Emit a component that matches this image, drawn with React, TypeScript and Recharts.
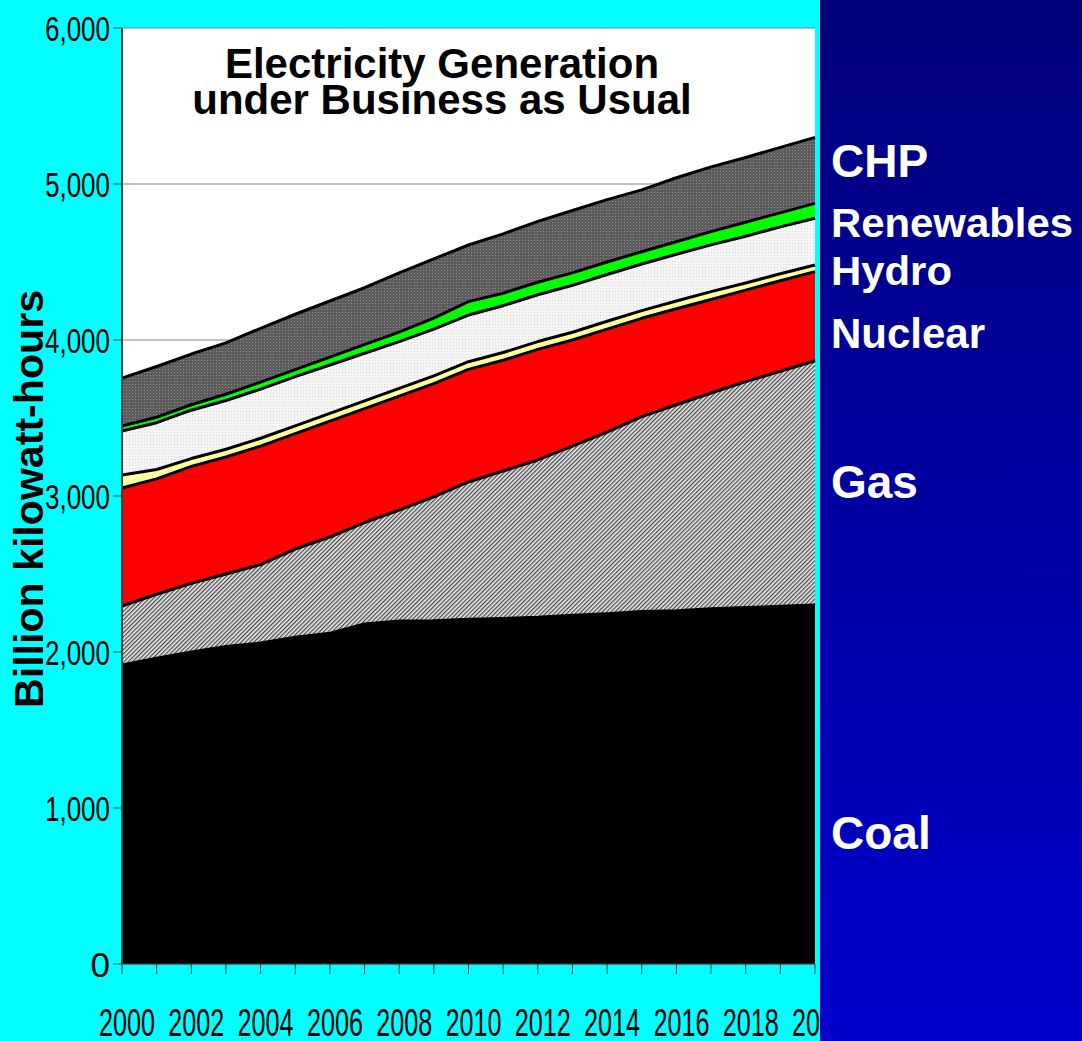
import { ComposedChart, Area, Line, XAxis, YAxis, CartesianGrid } from 'recharts'

const years = [2000, 2001, 2002, 2003, 2004, 2005, 2006, 2007, 2008, 2009, 2010, 2011, 2012, 2013, 2014, 2015, 2016, 2017, 2018, 2019, 2020]
const coal = [1917, 1960, 2000, 2035, 2058, 2095, 2120, 2180, 2199, 2200, 2210, 2215, 2222, 2235, 2245, 2259, 2265, 2278, 2285, 2293, 2301]
const gas = [378, 410, 440, 465, 502, 565, 617, 650, 711, 794, 880, 945, 1009, 1085, 1165, 1250, 1320, 1382, 1448, 1507, 1566]
const nuclear = [756, 740, 750, 750, 760, 740, 743, 730, 730, 726, 722, 710, 709, 680, 660, 630, 615, 600, 587, 580, 571]
const oil = [84, 60, 50, 50, 50, 50, 50, 50, 50, 50, 49, 50, 50, 50, 50, 49, 50, 50, 45, 45, 43]
const hydro = [282, 300, 310, 312, 315, 315, 310, 305, 300, 300, 299, 300, 300, 300, 300, 299, 300, 300, 300, 300, 299]
const renewables = [32, 35, 35, 40, 45, 45, 50, 55, 60, 70, 86, 80, 80, 80, 80, 79, 80, 85, 90, 90, 96]
const chp = [307, 325, 325, 330, 345, 355, 360, 365, 380, 380, 363, 380, 390, 400, 400, 396, 410, 415, 415, 420, 423]

const yTicks = [0, 1000, 2000, 3000, 4000, 5000, 6000]
const sideLabels = [
  { text: 'CHP', y: 177, size: 46 },
  { text: 'Renewables', y: 237, size: 41, len: 242 },
  { text: 'Hydro', y: 285, size: 41, len: 121 },
  { text: 'Nuclear', y: 348, size: 42 },
  { text: 'Gas', y: 498, size: 46 },
  { text: 'Coal', y: 849, size: 46 },
]

const data = years.map((year, i) => ({
  year,
  coal: coal[i],
  gas: gas[i],
  nuclear: nuclear[i],
  oil: oil[i],
  hydro: hydro[i],
  renewables: renewables[i],
  chp: chp[i],
}))

const order = ['coal', 'gas', 'nuclear', 'oil', 'hydro', 'renewables', 'chp']
const cumulative = (n: number) => (d: any) =>
  order.slice(0, n + 1).reduce((s, k) => s + d[k], 0)

const font = '"Liberation Sans", Arial, sans-serif'

const XTick = ({ x, y, payload }: any) => {
  if (payload.value % 2 !== 0) return null
  return (
    <text
      x={x + 5}
      y={y + 62}
      textAnchor="middle"
      fontSize={39}
      fontFamily={font}
      fill="#000"
      textLength={56}
      lengthAdjust="spacingAndGlyphs"
    >
      {payload.value}
    </text>
  )
}

const YTick = ({ x, y, payload }: any) => {
  const label = payload.value.toLocaleString('en-US')
  return (
    <text
      x={x}
      y={y + 12.5}
      textAnchor="end"
      fontSize={35}
      fontFamily={font}
      fill="#000"
      {...(label.length > 1 ? { textLength: 65, lengthAdjust: 'spacingAndGlyphs' } : {})}
    >
      {label}
    </text>
  )
}

export default function App() {
  return (
    <div
      style={{
        position: 'absolute',
        left: 0,
        top: 0,
        width: 1082,
        height: 1041,
        background: '#00ffff',
        overflow: 'hidden',
        fontFamily: font,
      }}
    >
      <ComposedChart
        width={820}
        height={1041}
        data={data}
        margin={{ top: 28, right: 5, left: 0, bottom: 2 }}
      >
        <defs>
          <pattern id="gasHatch" width="3" height="3" patternUnits="userSpaceOnUse" patternTransform="rotate(45)">
            <rect width="3" height="3" fill="#ececec" />
            <rect width="1.3" height="3" fill="#4a4a4a" />
          </pattern>
          <pattern id="chpDots" width="3" height="3" patternUnits="userSpaceOnUse">
            <rect width="3" height="3" fill="#5c5c5c" />
            <rect width="1" height="1" fill="#8e8e8e" />
          </pattern>
          <pattern id="hydroDots" width="3" height="3" patternUnits="userSpaceOnUse">
            <rect width="3" height="3" fill="#f5f5f5" />
            <rect width="1" height="1" fill="#d8d8d8" />
          </pattern>
        </defs>
        <CartesianGrid vertical={false} stroke="#808080" fill="#ffffff" />
        <XAxis
          dataKey="year"
          type="number"
          domain={[2000, 2020]}
          ticks={years}
          interval={0}
          height={75}
          tickSize={10}
          tickMargin={0}
          axisLine={{ stroke: '#404040' }}
          tickLine={{ stroke: '#404040' }}
          tick={<XTick />}
        />
        <YAxis
          domain={[0, 6000]}
          ticks={yTicks}
          width={122}
          tickSize={9}
          tickMargin={3}
          axisLine={{ stroke: '#404040', strokeWidth: 2 }}
          tickLine={{ stroke: '#404040' }}
          tick={<YTick />}
        />
        <Area type="linear" dataKey="coal" stackId="1" fill="#000000" fillOpacity={1} stroke="none" isAnimationActive={false} />
        <Area type="linear" dataKey="gas" stackId="1" fill="url(#gasHatch)" fillOpacity={1} stroke="none" isAnimationActive={false} />
        <Area type="linear" dataKey="nuclear" stackId="1" fill="#ff0000" fillOpacity={1} stroke="none" isAnimationActive={false} />
        <Area type="linear" dataKey="oil" stackId="1" fill="#ffff99" fillOpacity={1} stroke="none" isAnimationActive={false} />
        <Area type="linear" dataKey="hydro" stackId="1" fill="url(#hydroDots)" fillOpacity={1} stroke="none" isAnimationActive={false} />
        <Area type="linear" dataKey="renewables" stackId="1" fill="#00ff00" fillOpacity={1} stroke="none" isAnimationActive={false} />
        <Area type="linear" dataKey="chp" stackId="1" fill="url(#chpDots)" fillOpacity={1} stroke="none" isAnimationActive={false} />
        {order.map((k, i) => (
          <Line
            key={k}
            type="linear"
            dataKey={cumulative(i)}
            stroke="#000"
            strokeWidth={3}
            strokeLinejoin="round"
            dot={false}
            activeDot={false}
            isAnimationActive={false}
          />
        ))}
      </ComposedChart>
      <svg
        width={1082}
        height={1041}
        style={{ position: 'absolute', left: 0, top: 0, pointerEvents: 'none' }}
      >
        <defs>
          <linearGradient id="panelGrad" x1="0" y1="0" x2="0" y2="1">
            <stop offset="0%" stopColor="#00007a" />
            <stop offset="100%" stopColor="#0000cc" />
          </linearGradient>
        </defs>
        <text x={442} y={78} textAnchor="middle" fontSize={42} fontWeight="bold" fontFamily={font} fill="#000">
          Electricity Generation
        </text>
        <text x={442} y={114} textAnchor="middle" fontSize={42} fontWeight="bold" fontFamily={font} fill="#000">
          under Business as Usual
        </text>
        <text
          transform="translate(43,499) rotate(-90)"
          textAnchor="middle"
          fontSize={40}
          fontWeight="bold"
          fontFamily={font}
          fill="#000"
          textLength={418}
          lengthAdjust="spacingAndGlyphs"
        >
          Billion kilowatt-hours
        </text>
        <rect x={820} y={0} width={262} height={1041} fill="url(#panelGrad)" />
        {sideLabels.map((l) => (
          <text
            key={l.text}
            x={831}
            y={l.y}
            fontSize={l.size}
            fontWeight="bold"
            fontFamily={font}
            fill="#ffffff"
            {...(l.len ? { textLength: l.len, lengthAdjust: 'spacingAndGlyphs' } : {})}
          >
            {l.text}
          </text>
        ))}
      </svg>
    </div>
  )
}
